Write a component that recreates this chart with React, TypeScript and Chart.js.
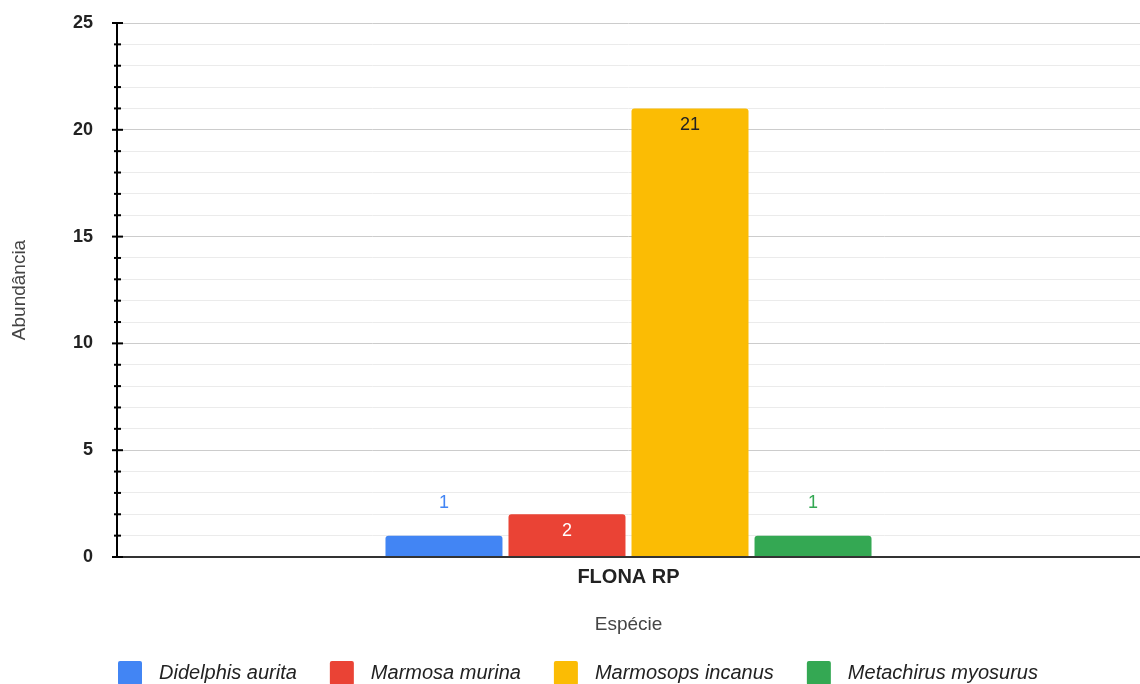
import React, { useEffect, useRef } from "react";
import { Chart, registerables } from "chart.js";

Chart.register(...registerables);

const categories = ["FLONA RP"];
const species = ["Didelphis aurita", "Marmosa murina", "Marmosops incanus", "Metachirus myosurus"];
const counts = [1, 2, 21, 1];
const barColors = ["#4285F4", "#EA4335", "#FBBC04", "#34A853"];
const insideLabelColors = ["#ffffff", "#ffffff", "#222222", "#ffffff"];
const yMin = 0;
const yMax = 25;
const yMajorStep = 5;
const yTitle = "Abundância";
const xTitle = "Espécie";

const FONT = "'Liberation Sans', Arial, sans-serif";

const axisPlugin = {
  id: "axisPlugin",
  afterDatasetsDraw(chart: any) {
    const { ctx, chartArea, scales } = chart;
    const y = scales.y;
    ctx.save();
    const y0 = y.getPixelForValue(0);
    ctx.strokeStyle = "#333333";
    ctx.lineWidth = 2;
    ctx.beginPath();
    ctx.moveTo(chartArea.left, y0);
    ctx.lineTo(chartArea.right, y0);
    ctx.stroke();
    ctx.strokeStyle = "#000000";
    ctx.beginPath();
    ctx.moveTo(chartArea.left, chartArea.top);
    ctx.lineTo(chartArea.left, y0);
    ctx.stroke();
    y.ticks.forEach((t: any) => {
      const py = y.getPixelForValue(t.value);
      const major = t.value % yMajorStep === 0;
      const l = major ? 5 : 3;
      const r = major ? 6 : 4;
      ctx.beginPath();
      ctx.moveTo(chartArea.left - l, py);
      ctx.lineTo(chartArea.left + r, py);
      ctx.stroke();
    });
    ctx.restore();
  },
};

const labelPlugin = {
  id: "labelPlugin",
  afterDatasetsDraw(chart: any) {
    const { ctx } = chart;
    ctx.save();
    ctx.font = `18px ${FONT}`;
    ctx.textAlign = "center";
    ctx.textBaseline = "middle";
    chart.data.datasets.forEach((ds: any, i: number) => {
      const meta = chart.getDatasetMeta(i);
      meta.data.forEach((el: any, j: number) => {
        const v = ds.data[j];
        const h = el.base - el.y;
        if (h < 30) {
          ctx.fillStyle = barColors[i];
          ctx.fillText(String(v), el.x, el.y - 33);
        } else {
          ctx.fillStyle = insideLabelColors[i];
          ctx.fillText(String(v), el.x, el.y + 17);
        }
      });
    });
    ctx.restore();
  },
};

const legendPlugin = {
  id: "bottomLegend",
  afterDraw(chart: any) {
    const { ctx, chartArea } = chart;
    const box = 24;
    const gap = 17;
    const spacing = 33;
    const top = 661;
    ctx.save();
    ctx.font = `italic 20px ${FONT}`;
    ctx.textBaseline = "middle";
    ctx.textAlign = "left";
    let x = chartArea.left + 1;
    chart.data.datasets.forEach((ds: any) => {
      ctx.fillStyle = ds.backgroundColor;
      ctx.beginPath();
      (ctx as any).roundRect(x, top, box, box, 2);
      ctx.fill();
      ctx.fillStyle = "#222222";
      ctx.fillText(ds.label, x + box + gap, top + box / 2);
      x += box + gap + ctx.measureText(ds.label).width + spacing;
    });
    ctx.restore();
  },
};

export default function App() {
  const ref = useRef<HTMLCanvasElement>(null);
  useEffect(() => {
    if (!ref.current) return;
    const chart = new Chart(ref.current, {
      type: "bar",
      data: {
        labels: categories,
        datasets: species.map((s, i) => ({
          label: s,
          data: [counts[i]],
          backgroundColor: barColors[i],
          borderRadius: 3,
          categoryPercentage: 0.481,
          barPercentage: 0.951,
        })),
      },
      options: {
        animation: false,
        responsive: true,
        maintainAspectRatio: false,
        layout: { padding: { top: 23, right: 0, left: 0, bottom: 0 } },
        plugins: {
          tooltip: { enabled: false },
          legend: { display: false },
        },
        scales: {
          x: {
            grid: { display: false, drawTicks: false },
            border: { display: false },
            ticks: {
              color: "#222222",
              padding: 8,
              font: { family: FONT, size: 20, weight: "bold" },
            },
            title: {
              display: true,
              text: xTitle,
              color: "#444444",
              font: { family: FONT, size: 19 },
              padding: { top: 0, bottom: 48 },
            },
            afterFit(scale: any) {
              scale.height = 127;
            },
          },
          y: {
            min: yMin,
            max: yMax,
            border: { display: false },
            grid: {
              drawTicks: true,
              tickLength: 24,
              tickColor: "rgba(0,0,0,0)",
              color: (c: any) => (c.tick && c.tick.value % yMajorStep === 0 ? "#cccccc" : "#ebebeb"),
              lineWidth: 1,
            },
            ticks: {
              stepSize: 1,
              autoSkip: false,
              padding: 0,
              color: "#222222",
              font: { family: FONT, size: 18, weight: "bold" },
              callback: (v: any) => (Number(v) % yMajorStep === 0 ? String(v) : ""),
            },
            title: {
              display: true,
              text: yTitle,
              color: "#444444",
              font: { family: FONT, size: 19 },
              padding: { top: 8, bottom: 0 },
            },
            afterFit(scale: any) {
              scale.width = 117;
            },
          },
        },
      },
      plugins: [axisPlugin, labelPlugin, legendPlugin],
    });
    return () => chart.destroy();
  }, []);
  return (
    <div style={{ position: "fixed", left: 0, top: 0, width: 1140, height: 684, background: "#fff" }}>
      <canvas ref={ref} />
    </div>
  );
}
